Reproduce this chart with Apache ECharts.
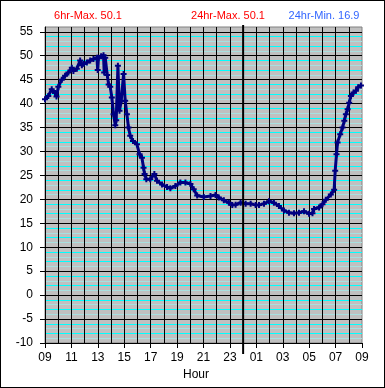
<!DOCTYPE html>
<html><head><meta charset="utf-8">
<script src="https://cdn.jsdelivr.net/npm/echarts@6/dist/echarts.min.js"></script>
<style>html,body{margin:0;padding:0;background:#fff}#c{width:383px;height:386px;border-left:1px solid #000;border-top:1px solid #000;border-right:1px solid #000;border-bottom:1px solid #000}</style>
</head><body><div id="c"></div>
<script>
// hours after 09:00
const hours = [0.00,0.25,0.51,0.76,0.87,1.01,1.27,1.52,1.77,2.03,2.15,2.41,2.66,2.79,2.91,3.17,3.42,3.67,3.93,3.99,4.05,4.25,4.43,4.48,4.56,4.71,4.82,4.94,5.06,5.19,5.32,5.39,5.52,5.64,5.77,5.95,6.07,6.20,6.32,6.45,6.66,6.96,7.16,7.34,7.46,7.54,7.67,7.97,8.28,8.48,8.86,9.24,9.49,9.87,10.25,10.63,11.01,11.26,11.52,12.02,12.53,12.91,13.16,13.54,13.92,14.18,14.43,14.81,15.19,15.57,15.95,16.20,16.58,16.96,17.33,17.71,18.09,18.47,18.85,19.23,19.61,19.99,20.25,20.37,20.75,21.01,21.26,21.64,21.89,21.97,22.07,22.15,22.35,22.53,22.66,22.78,22.91,23.03,23.16,23.36,23.54,23.71,23.92];
const temps = [40.9,41.6,43.0,42.2,41.5,43.5,45.0,45.8,46.5,47.5,46.8,47.3,49.0,48.0,48.3,48.6,49.0,49.3,49.6,47.0,49.6,49.9,50.1,46.5,49.6,46.0,44.0,43.5,41.3,37.8,35.5,36.5,47.9,38.5,40.5,46.2,40.6,37.8,35.0,33.3,32.2,31.5,29.4,28.7,26.6,25.3,24.2,24.2,25.3,23.9,23.1,22.6,22.3,22.8,23.5,23.5,23.2,22.1,20.8,20.5,20.7,20.9,20.4,19.8,19.3,18.8,18.9,19.3,19.1,19.1,18.8,18.8,19.1,19.6,19.3,18.6,17.7,17.2,17.1,17.2,17.5,17.0,17.1,18.0,18.3,19.0,19.9,21.0,22.0,26.0,29.4,31.9,33.6,35.0,36.4,37.8,38.8,40.2,41.6,42.3,42.7,43.4,43.8];
const xTickLabels = ['09','11','13','15','17','19','21','23','01','03','05','07','09'];
const midnightHour = 15;
const headerTexts = ['6hr-Max. 50.1','24hr-Max. 50.1','24hr-Min. 16.9'];
const headerColors = ['#FF0000','#FF0000','#3366FF'];

const FONT = 'Liberation Sans, Arial, sans-serif';
const chart = echarts.init(document.getElementById('c'));
const data = hours.map((h,i)=>[h,temps[i]]);
const grid = {left:44, right:22, top:26, bottom:44};
chart.setOption({
  animation:false,
  grid:{...grid, show:true, backgroundColor:'#C0C0C0', borderColor:'#808080', borderWidth:1},
  xAxis:[
    {type:'value', min:0, max:24, interval:1, z:3,
     axisLine:{show:false}, axisTick:{show:false}, axisLabel:{show:false},
     splitLine:{show:true, showMinLine:false, showMaxLine:false, lineStyle:{color:'#000', width:1}}},
    {type:'value', min:0, max:24, interval:2, position:'bottom', z:4,
     axisLine:{show:true, onZero:false, lineStyle:{color:'#000'}},
     axisTick:{show:true, length:5, lineStyle:{color:'#000'}},
     axisLabel:{color:'#000', fontFamily:FONT, fontSize:12, margin:9, formatter:v=>xTickLabels[Math.round(v/2)]},
     splitLine:{show:false}}
  ],
  yAxis:[
    {type:'value', min:-10, max:56, interval:5, z:3,
     axisLine:{show:true, lineStyle:{color:'#000'}},
     axisTick:{show:true, length:5, lineStyle:{color:'#000'}},
     axisLabel:{color:'#000', fontFamily:FONT, fontSize:12, margin:12, showMaxLabel:false,
       formatter:v=> (v%5===0? String(v):'')},
     splitLine:{show:true, showMaxLine:false, lineStyle:{color:'#000', width:1}}},
    {type:'value', min:-10, max:56, interval:1, position:'left', z:2,
     axisLine:{show:false}, axisTick:{show:false}, axisLabel:{show:false},
     splitLine:{show:true, showMaxLine:false, lineStyle:{color:['rgba(0,0,0,0)','#A8E0E0','#00FFFF','#A8E0E0','#00FFFF'], width:1}}}
  ],
  series:[{
    type:'line', data:data, xAxisIndex:0, yAxisIndex:0, z:5,
    symbol:'path://M2 0h2v2h2v2h-2v2h-2v-2h-2v-2h2z', symbolSize:6, showSymbol:true,
    itemStyle:{color:'#000080'}, lineStyle:{color:'#000080', width:3}
  }]
});
const mx = chart.convertToPixel({xAxisIndex:0}, midnightHour);
const yTop = chart.convertToPixel({yAxisIndex:0}, 56);
const yBot = chart.convertToPixel({yAxisIndex:0}, -10);
const hx = [87, 227, 323];
chart.setOption({graphic:[
  {type:'line', z:10, shape:{x1:mx, y1:yTop-2, x2:mx, y2:yBot+11}, style:{stroke:'#000', lineWidth:2}},
  ...headerTexts.map((t,i)=>({type:'text', x:hx[i], y:15, style:{text:t, fill:headerColors[i], font:'11px '+FONT, textAlign:'center', textVerticalAlign:'middle'}})),
  {type:'text', x:195, y:374, style:{text:'Hour', fill:'#000', font:'12px '+FONT, textAlign:'center', textVerticalAlign:'middle'}}
]});
</script></body></html>
